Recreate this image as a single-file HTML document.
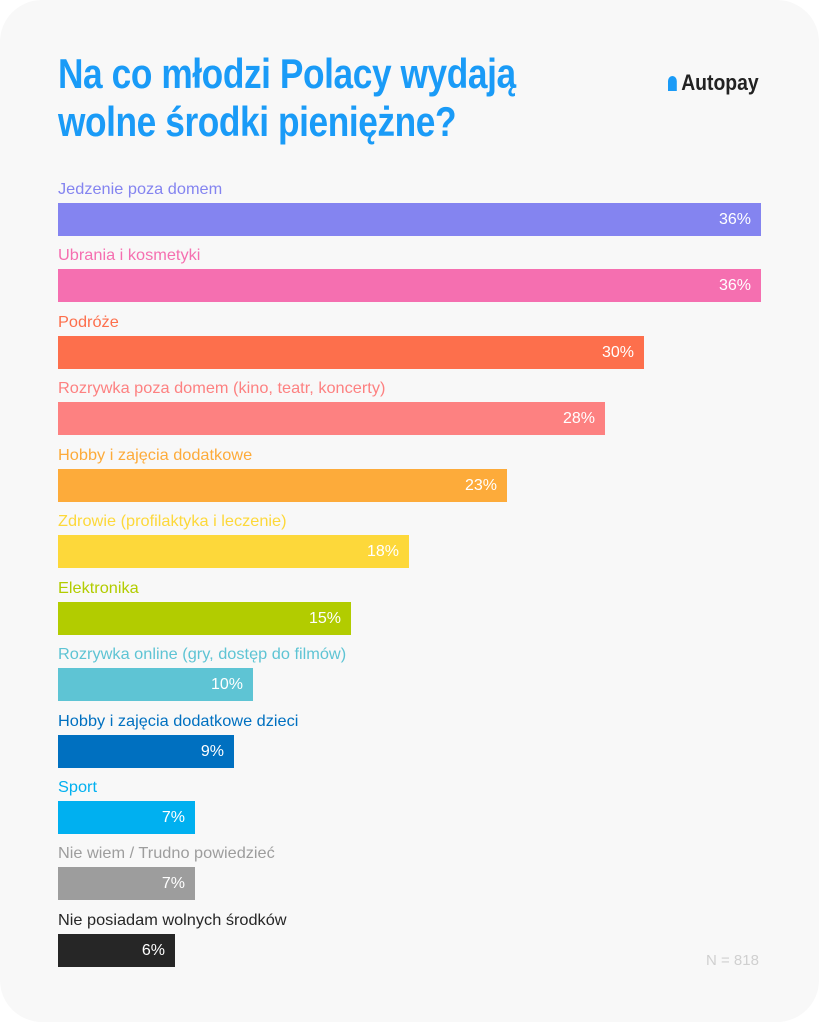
<!DOCTYPE html>
<html><head><meta charset="utf-8"><style>
html,body{margin:0;padding:0;background:#fff;}
body{width:819px;height:1024px;position:relative;overflow:hidden;font-family:"Liberation Sans",sans-serif;}
.card{position:absolute;left:0;top:0;width:819px;height:1022px;background:#f8f8f8;border-radius:42px;}
.t{position:absolute;left:58px;font-weight:bold;color:#1a9bf7;font-size:42px;white-space:nowrap;transform-origin:0 0;transform:scaleX(0.84);letter-spacing:-0.5px;}
.logo{position:absolute;left:668px;top:70px;font-weight:bold;font-size:22px;color:#222;transform-origin:0 0;transform:scaleX(0.88);}
.lbl{position:absolute;left:58px;font-size:16px;white-space:nowrap;transform-origin:0 0;transform:scaleX(1.02);}
.bar{position:absolute;left:58px;height:33px;color:#fff;font-size:16px;text-align:right;box-sizing:border-box;padding-right:10px;line-height:33px;}
.n{position:absolute;left:706px;top:952px;color:#d0d0d0;font-size:15px;}
</style></head><body>
<div class="card"></div>
<div class="t" style="top:50px">Na co młodzi Polacy wydają</div>
<div class="t" style="top:98px">wolne środki pieniężne?</div>
<div class="logo"><span style="display:inline-block;width:10px;height:15px;background:#1a9bf7;border-radius:5px 5px 0 0;margin-right:5px;vertical-align:-1px"></span>Autopay</div>

<div class="lbl" style="top:181px;color:#8484f0">Jedzenie poza domem</div>
<div class="bar" style="top:203px;width:703px;background:#8484f0">36%</div>
<div class="lbl" style="top:247px;color:#f56fb0">Ubrania i kosmetyki</div>
<div class="bar" style="top:269px;width:703px;background:#f56fb0">36%</div>
<div class="lbl" style="top:314px;color:#fd6f4c">Podróże</div>
<div class="bar" style="top:336px;width:586px;background:#fd6f4c">30%</div>
<div class="lbl" style="top:380px;color:#fd8181">Rozrywka poza domem (kino, teatr, koncerty)</div>
<div class="bar" style="top:402px;width:547px;background:#fd8181">28%</div>
<div class="lbl" style="top:447px;color:#fdab3a">Hobby i zajęcia dodatkowe</div>
<div class="bar" style="top:469px;width:449px;background:#fdab3a">23%</div>
<div class="lbl" style="top:513px;color:#fdd83a">Zdrowie (profilaktyka i leczenie)</div>
<div class="bar" style="top:535px;width:351px;background:#fdd83a">18%</div>
<div class="lbl" style="top:580px;color:#b2cc00">Elektronika</div>
<div class="bar" style="top:602px;width:293px;background:#b2cc00">15%</div>
<div class="lbl" style="top:646px;color:#5ec4d4">Rozrywka online (gry, dostęp do filmów)</div>
<div class="bar" style="top:668px;width:195px;background:#5ec4d4">10%</div>
<div class="lbl" style="top:713px;color:#0070c0">Hobby i zajęcia dodatkowe dzieci</div>
<div class="bar" style="top:735px;width:176px;background:#0070c0">9%</div>
<div class="lbl" style="top:779px;color:#00b0f0">Sport</div>
<div class="bar" style="top:801px;width:137px;background:#00b0f0">7%</div>
<div class="lbl" style="top:845px;color:#9d9d9d">Nie wiem / Trudno powiedzieć</div>
<div class="bar" style="top:867px;width:137px;background:#9d9d9d">7%</div>
<div class="lbl" style="top:912px;color:#262626">Nie posiadam wolnych środków</div>
<div class="bar" style="top:934px;width:117px;background:#262626">6%</div>
<div class="n">N = 818</div>
</body></html>
